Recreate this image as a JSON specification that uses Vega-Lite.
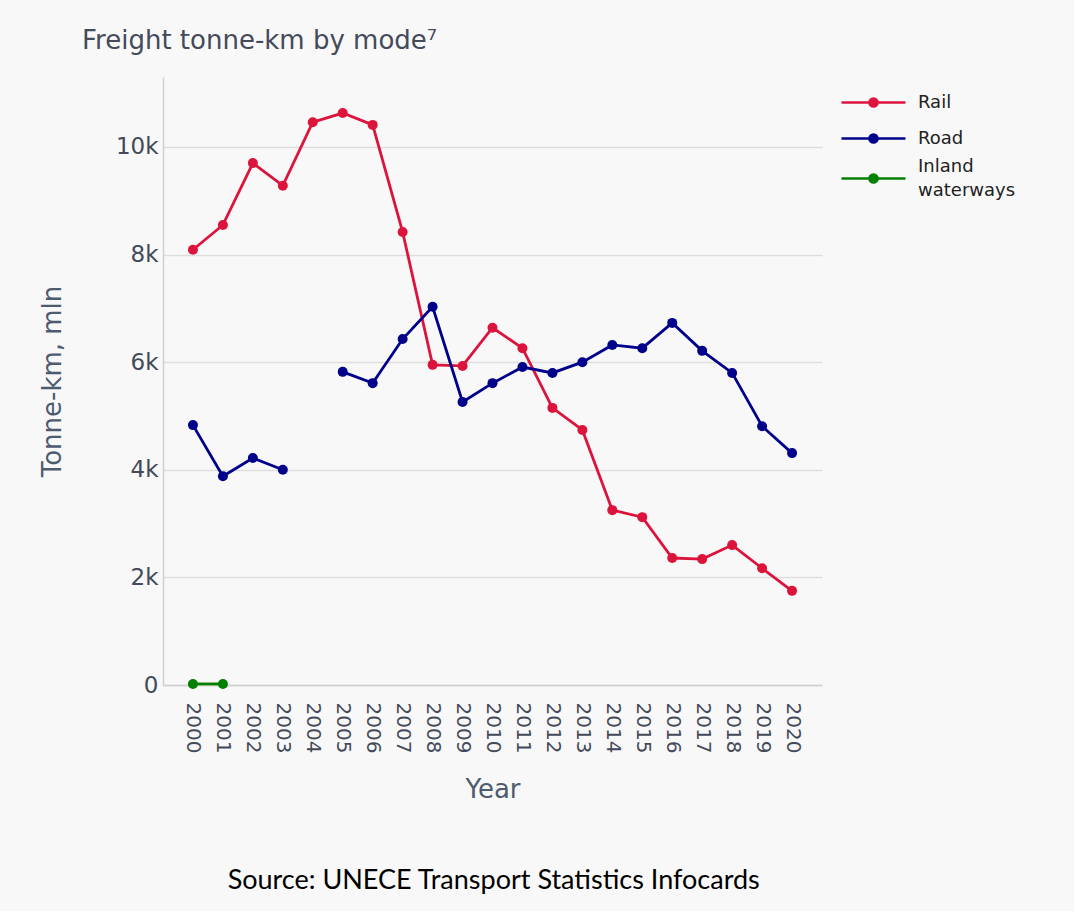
{
  "$schema": "https://vega.github.io/schema/vega-lite/v6.json",
  "background": "#f8f8f8",
  "padding": {"left": 39, "top": 28, "right": 50, "bottom": 17},
  "config": {"view": {"stroke": null}, "font": "DejaVu Sans"},
  "title": {"text": "Source: UNECE Transport Statistics Infocards", "orient": "bottom", "anchor": "middle", "font": "Lato", "fontSize": 27, "fontWeight": "normal", "color": "#000000", "offset": 65, "dx": -38},
  "vconcat": [
    {
      "width": 659,
      "height": 608,
      "title": {"text": "Freight tonne-km by mode⁷", "anchor": "start", "frame": "group", "dx": -81, "offset": 23, "font": "DejaVu Sans", "fontSize": 26, "fontWeight": "normal", "color": "#444a5a"},
      "data": {"values": [
        {"year": 2000, "mode": "Rail", "value": 8090},
        {"year": 2001, "mode": "Rail", "value": 8550},
        {"year": 2002, "mode": "Rail", "value": 9700},
        {"year": 2003, "mode": "Rail", "value": 9280},
        {"year": 2004, "mode": "Rail", "value": 10460},
        {"year": 2005, "mode": "Rail", "value": 10630},
        {"year": 2006, "mode": "Rail", "value": 10410},
        {"year": 2007, "mode": "Rail", "value": 8420},
        {"year": 2008, "mode": "Rail", "value": 5950},
        {"year": 2009, "mode": "Rail", "value": 5930},
        {"year": 2010, "mode": "Rail", "value": 6640},
        {"year": 2011, "mode": "Rail", "value": 6260},
        {"year": 2012, "mode": "Rail", "value": 5150},
        {"year": 2013, "mode": "Rail", "value": 4740},
        {"year": 2014, "mode": "Rail", "value": 3250},
        {"year": 2015, "mode": "Rail", "value": 3120},
        {"year": 2016, "mode": "Rail", "value": 2360},
        {"year": 2017, "mode": "Rail", "value": 2340},
        {"year": 2018, "mode": "Rail", "value": 2600},
        {"year": 2019, "mode": "Rail", "value": 2170},
        {"year": 2020, "mode": "Rail", "value": 1750},
        {"year": 2000, "mode": "Road", "value": 4830},
        {"year": 2001, "mode": "Road", "value": 3880},
        {"year": 2002, "mode": "Road", "value": 4220},
        {"year": 2003, "mode": "Road", "value": 4000},
        {"year": 2004, "mode": "Road", "value": null},
        {"year": 2005, "mode": "Road", "value": 5820},
        {"year": 2006, "mode": "Road", "value": 5610},
        {"year": 2007, "mode": "Road", "value": 6430},
        {"year": 2008, "mode": "Road", "value": 7030},
        {"year": 2009, "mode": "Road", "value": 5260},
        {"year": 2010, "mode": "Road", "value": 5610},
        {"year": 2011, "mode": "Road", "value": 5910},
        {"year": 2012, "mode": "Road", "value": 5800},
        {"year": 2013, "mode": "Road", "value": 6000},
        {"year": 2014, "mode": "Road", "value": 6320},
        {"year": 2015, "mode": "Road", "value": 6260},
        {"year": 2016, "mode": "Road", "value": 6730},
        {"year": 2017, "mode": "Road", "value": 6210},
        {"year": 2018, "mode": "Road", "value": 5800},
        {"year": 2019, "mode": "Road", "value": 4810},
        {"year": 2020, "mode": "Road", "value": 4310},
        {"year": 2000, "mode": "Inland waterways", "value": 20},
        {"year": 2001, "mode": "Inland waterways", "value": 20}
      ]},
      "encoding": {
        "x": {"field": "year", "type": "ordinal", "title": "Year",
          "scale": {"type": "point", "padding": 1.42},
          "axis": {"labelAngle": 90, "labelFont": "DejaVu Sans", "labelFontSize": 20, "labelColor": "#444a5a", "labelPadding": 17, "labelBaseline": "middle", "labelAlign": "left", "ticks": false, "domain": true, "domainColor": "#d0d0d0", "domainWidth": 1.5, "titleFont": "DejaVu Sans", "titleFontSize": 26, "titleFontWeight": "normal", "titleColor": "#4d5b70", "titlePadding": 24, "grid": false}},
        "y": {"field": "value", "type": "quantitative", "title": "Tonne-km, mln",
          "scale": {"domain": [0, 11300], "nice": false},
          "axis": {"values": [0, 2000, 4000, 6000, 8000, 10000], "labelExpr": "datum.value == 0 ? '0' : format(datum.value / 1000, 'd') + 'k'", "labelFont": "DejaVu Sans", "labelFontSize": 23, "labelColor": "#444a5a", "labelPadding": 5, "ticks": false, "domain": true, "domainColor": "#d0d0d0", "domainWidth": 1.5, "gridColor": "#dddddd", "gridWidth": 1.3, "titleFont": "DejaVu Sans", "titleFontSize": 26, "titleFontWeight": "normal", "titleColor": "#4d5b70", "titlePadding": 50}},
        "color": {"field": "mode", "type": "nominal", "title": null,
          "scale": {"domain": ["Rail", "Road", "Inland waterways"], "range": ["#dc143c", "#00008b", "#008000"]},
          "legend": {"orient": "right", "offset": 26, "padding": 8, "labelFontSize": 18, "labelColor": "#222222", "labelFont": "DejaVu Sans",
            "symbolType": "M-2,0H2M-0.25,0A0.25,0.25,0,1,1,0.25,0A0.25,0.25,0,1,1,-0.25,0Z",
            "symbolSize": 1024, "symbolStrokeWidth": 2.6, "rowPadding": 9, "labelOffset": 27,
            "labelExpr": "datum.label == 'Inland waterways' ? ['Inland', 'waterways'] : datum.label",
            "encode": {
              "symbols": {"update": {"fill": {"field": "value", "scale": "color"}}},
              "labels": {"update": {"lineHeight": {"value": 24}, "dy": {"signal": "datum.value == 'Inland waterways' ? -12 : 0"}}}
            }}}
      },
      "layer": [
        {"mark": {"type": "line", "strokeWidth": 2.8, "invalid": "break-paths-show-domains"}},
        {"mark": {"type": "point", "filled": true, "size": 100, "opacity": 1}}
      ]
    }
  ]
}
